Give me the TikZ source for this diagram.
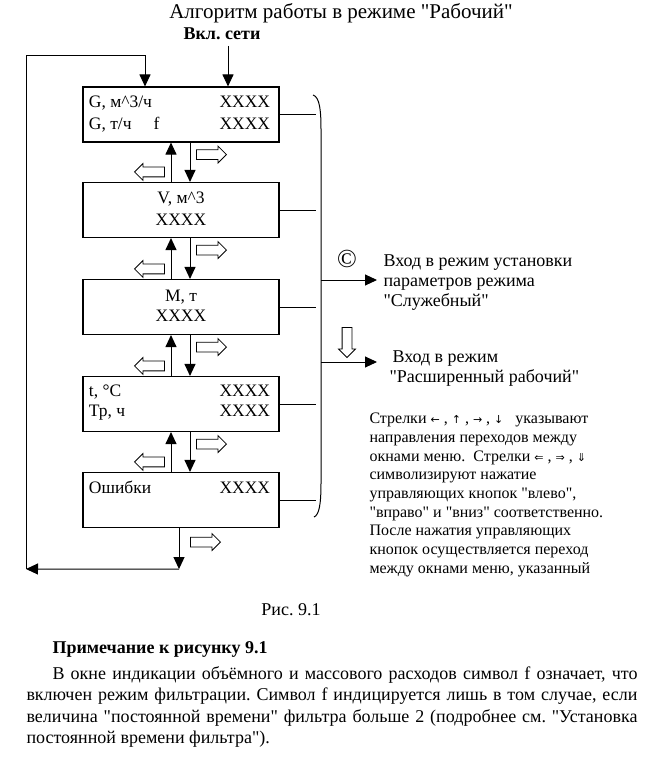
\documentclass[tikz,border=0pt]{standalone}
\usepackage{fontspec}
\setmainfont[Ligatures=TeXOff]{Liberation Serif}
\newfontfamily\symfont{DejaVu Sans}
\usetikzlibrary{arrows.meta,calc,shapes.arrows}
\frenchspacing

\newcommand\sarr[1]{{\symfont\fontsize{11}{12}\selectfont #1}}

\tikzset{
  win/.style={draw,line width=1.1pt,minimum width=196pt,minimum height=55pt,inner sep=0pt},
  wtxt/.style={inner sep=0pt,font=\fontsize{17.5}{21}\selectfont},
  btn/.style={draw,single arrow,line width=0.8pt,inner sep=4.5pt,minimum width=16pt,
    minimum height=30pt,single arrow head extend=3.5pt,single arrow head indent=0pt},
  plain/.style={inner sep=0pt,font=\fontsize{18}{20}\selectfont}
}

\begin{document}
\begin{tikzpicture}[x=1pt,y=-1pt,line width=1pt,>={Triangle[length=12pt,width=11pt]}]
	\useasboundingbox (0,0) rectangle (653,765);
	
	% heading
	\node[inner sep=0pt,anchor=base,font=\fontsize{21}{24}\selectfont] (title) at (341,19) {Алгоритм работы в режиме "Рабочий"};
	\node[plain,anchor=base,font=\fontsize{18}{21}\selectfont\bfseries] (power) at (222,40) {Вкл. сети};
	
	% menu windows
	\node[win] (W1) at (181,114.5) {};
	\node[win] (W2) at (181,210) {};
	\node[win] (W3) at (181,307) {};
	\node[win] (W4) at (181,404) {};
	\node[win] (W5) at (181,500) {};
	
	\begin{scope}[every node/.style={wtxt}]
		\node[anchor=base west] (G1) at ($(W1.north west)+(6,21)$) {G, м\textasciicircum3/ч};
		\node[anchor=base west] (G2) at ($(W1.north west)+(6,43)$) {G, т/ч\hspace{22pt}f};
		\node[anchor=base east] (X1) at ($(W1.north east)+(-9,21)$) {XXXX};
		\node[anchor=base east] (X2) at ($(W1.north east)+(-9,43)$) {XXXX};
		\node[anchor=base] (V) at ($(W2.north)+(0,22)$) {V, м\textasciicircum3};
		\node[anchor=base] (X3) at ($(W2.north)+(0,44)$) {XXXX};
		\node[anchor=base] (M) at ($(W3.north)+(0,23)$) {М, т};
		\node[anchor=base] (X4) at ($(W3.north)+(0,43)$) {XXXX};
		\node[anchor=base west] (Tc) at ($(W4.north west)+(6,21)$) {t, °C};
		\node[anchor=base west] (Tp) at ($(W4.north west)+(6,41)$) {Тр, ч};
		\node[anchor=base east] (X5) at ($(W4.north east)+(-9,21)$) {XXXX};
		\node[anchor=base east] (X6) at ($(W4.north east)+(-9,41)$) {XXXX};
		\node[anchor=base west] (Err) at ($(W5.north west)+(6,22)$) {Ошибки};
		\node[anchor=base east] (X7) at ($(W5.north east)+(-9,22)$) {XXXX};
	\end{scope}
	
	% transitions between windows
	\foreach \u/\d in {W1/W2,W2/W3,W3/W4,W4/W5}{
		\draw[->] ([xshift=-10pt]\d.north) -- ([xshift=-10pt]\u.south);
		\draw[->] ([xshift=9pt]\u.south) -- ([xshift=9pt]\d.north);
		\node[btn] (R\u) at ($(\u.south)+(28,12)$) {};
		\node[btn,shape border rotate=180] (L\d) at ($(\d.north)+(-29,-10)$) {};
	}
	
	% power on
	\coordinate (in) at ([xshift=47pt]W1.north);
	\draw[->] ($(in |- power.south)+(0,5)$) -- (in);
	
	% loop back to the first window
	\coordinate (B) at ($(W5.south)+(-2,41)$);
	\coordinate (L) at (26,569);
	\coordinate (T) at (26,56);
	\draw[->] (W5.south -| B) -- (B);
	\draw[->] (B) -- (L);
	\draw[->] (L) -- (T) -| ([xshift=-36pt]W1.north);
	\node[btn] (RW5) at ($(W5.south)+(22,14)$) {};
	
	% brace on the right
	\foreach \i in {1,...,5} \draw (W\i.east) -- ++(36,0);
	\draw (313,95) .. controls (320,97) and (321,112) .. (321,130) -- (321,483)
		.. controls (321,505) and (319,515) .. (314,517);
	\coordinate (S1) at (321,280);
	\coordinate (S2) at (321,362);
	\draw[->] (S1) -- ++(56,0);
	\draw[->] (S2) -- ++(56,0);
	\node[inner sep=0pt,font=\fontsize{26}{28}\selectfont] (copy) at (347,259) {©};
	\node[btn,shape border rotate=270] (D) at (347,340) {};
	
	\node[plain,anchor=north west,align=left] (serv) at (383,254)
		{Вход в режим установки\\параметров режима\\"Служебный"};
	\node[plain,anchor=north west,align=left] (ext) at (389,350)
		{\hspace*{3pt}Вход в режим\\"Расширенный рабочий"};
	
	% legend
	\node[inner sep=0pt,anchor=north west,align=left,font=\fontsize{16}{18.7}\selectfont] (note) at (369,412.5)
		{Стрелки \sarr{←} , \sarr{↑} , \sarr{→} , \sarr{↓} \ \ указывают\\
		направления переходов между\\
		окнами меню.\ \ Стрелки \sarr{⇐} , \sarr{⇒} , \sarr{⇓}\\
		символизируют нажатие\\
		управляющих кнопок "влево",\\
		"вправо" и "вниз" соответственно.\\
		После нажатия управляющих\\
		кнопок осуществляется переход\\
		между окнами меню, указанный};
	
	% caption and remark
	\node[plain,anchor=base] (cap) at (291,615) {Рис. 9.1};
	\node[plain,anchor=base west,font=\fontsize{18}{20}\selectfont\bfseries] (hd) at (52,653) {Примечание к рисунку 9.1};
	\node[plain,anchor=north west,text width=611pt,align=justify,font=\fontsize{18}{21.5}\selectfont] (para) at (26,666)
		{\hspace*{26pt}В окне индикации объёмного и массового расходов символ f означает, что\linebreak
		включен режим фильтрации. Символ f индицируется лишь в том случае, если\linebreak
		величина "постоянной времени" фильтра больше 2 (подробнее см. "Установка\linebreak
		постоянной времени фильтра").};
\end{tikzpicture}
\end{document}
